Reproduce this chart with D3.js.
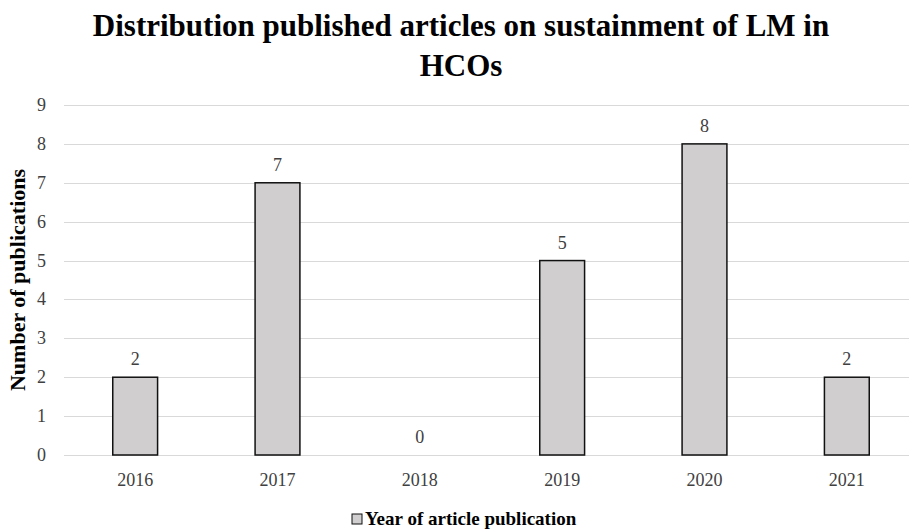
<!DOCTYPE html>
<html>
<head>
<meta charset="utf-8">
<script src="https://cdn.jsdelivr.net/npm/d3@7"></script>
<style>
  body { margin: 0; background: #fff; }
  text { font-family: "Liberation Serif", "DejaVu Serif", serif; }
</style>
</head>
<body>
<svg id="chart"></svg>
<script>
// chart data
var years = ["2016", "2017", "2018", "2019", "2020", "2021"];
var counts = [2, 7, 0, 5, 8, 2];
var yTicks = [0, 1, 2, 3, 4, 5, 6, 7, 8, 9];

var width = 909, height = 529;
var margin = {top: 105, right: -9, bottom: 74, left: 64};

var svg = d3.select("#chart")
    .attr("width", width)
    .attr("height", height);

var x = d3.scaleBand()
    .domain(years)
    .range([margin.left, width - margin.right])
    .paddingInner(0.685)
    .paddingOuter(0.3425);

var y = d3.scaleLinear()
    .domain([0, 9])
    .range([height - margin.bottom, margin.top]);

// title
svg.append("text")
    .attr("x", 461)
    .attr("y", 36)
    .attr("text-anchor", "middle")
    .attr("font-size", 31)
    .attr("font-weight", "bold")
    .text("Distribution published articles on sustainment of LM in");
svg.append("text")
    .attr("x", 461)
    .attr("y", 76)
    .attr("text-anchor", "middle")
    .attr("font-size", 31)
    .attr("font-weight", "bold")
    .text("HCOs");

// gridlines
svg.append("g")
    .selectAll("line")
    .data(yTicks)
  .enter().append("line")
    .attr("x1", margin.left)
    .attr("x2", width)
    .attr("y1", function(d) { return Math.round(y(d)) + 0.5; })
    .attr("y2", function(d) { return Math.round(y(d)) + 0.5; })
    .attr("stroke", "#d9d9d9")
    .attr("stroke-width", 1.2);

// y axis labels
svg.append("g")
    .selectAll("text")
    .data(yTicks)
  .enter().append("text")
    .attr("x", 46)
    .attr("y", function(d) { return y(d) + 6; })
    .attr("text-anchor", "end")
    .attr("font-size", 18)
    .attr("fill", "#404040")
    .text(function(d) { return d; });

// y axis title
svg.append("text")
    .attr("transform", "translate(25," + y(4.5) + ") rotate(-90)")
    .attr("text-anchor", "middle")
    .attr("font-size", 22)
    .attr("font-weight", "bold")
    .text("Number of publications");

// bars
svg.append("g")
    .selectAll("rect")
    .data(counts)
  .enter().append("rect")
    .attr("x", function(d, i) { return x(years[i]); })
    .attr("y", function(d) { return y(d); })
    .attr("width", x.bandwidth())
    .attr("height", function(d) { return y(0) - y(d); })
    .attr("fill", "#d0cece")
    .attr("stroke", d => d > 0 ? "#111" : "none")
    .attr("stroke-width", 1.5);

// value labels
svg.append("g")
    .selectAll("text")
    .data(counts)
  .enter().append("text")
    .attr("x", function(d, i) { return x(years[i]) + x.bandwidth() / 2; })
    .attr("y", function(d) { return y(d) - 12; })
    .attr("text-anchor", "middle")
    .attr("font-size", 18)
    .attr("fill", "#404040")
    .text(function(d) { return d; });

// x labels
svg.append("g")
    .selectAll("text")
    .data(years)
  .enter().append("text")
    .attr("x", function(d) { return x(d) + x.bandwidth() / 2; })
    .attr("y", y(0) + 31)
    .attr("text-anchor", "middle")
    .attr("font-size", 18)
    .attr("fill", "#404040")
    .text(function(d) { return d; });

// legend
var legend = svg.append("g").attr("transform", "translate(352,514)");
legend.append("rect")
    .attr("width", 10)
    .attr("height", 10)
    .attr("fill", "#d0cece")
    .attr("stroke", "#111")
    .attr("stroke-width", 1);
legend.append("text")
    .attr("x", 13)
    .attr("y", 11)
    .attr("font-size", 19)
    .attr("font-weight", "bold")
    .text("Year of article publication");
</script>
</body>
</html>
